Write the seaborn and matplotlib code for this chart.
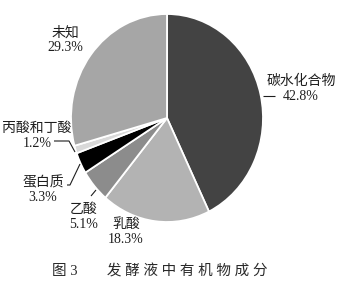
import matplotlib
matplotlib.use("Agg")
import matplotlib.pyplot as plt
import seaborn as sns
import numpy as np

# Organic composition of the fermentation broth (percent)
categories = ["碳水化合物", "乳酸", "乙酸", "蛋白质", "丙酸和丁酸", "未知"]
shares = [42.8, 18.3, 5.1, 3.3, 1.2, 29.3]
value_labels = ["42.8%", "18.3%", "5.1%", "3.3%", "1.2%", "29.3%"]
title = "图 3\u3000\u3000发 酵 液 中 有 机 物 成 分"

colors = ["#434343", "#b3b3b3", "#8c8c8c", "#000000", "#d9d9d9", "#a6a6a6"]

sns.set_theme(style="white")
plt.rcParams["font.family"] = ["Liberation Serif", "Noto Sans CJK SC"]

W, H = 343, 291
fig = plt.figure(figsize=(W / 100, H / 100), dpi=100)
ax = fig.add_axes([0, 0, 1, 1])

# pie centre and radii in pixels (the figure is slightly stretched vertically)
cx, cy, rx, ry = 167, 118, 96, 104

def px(x, y):
    """pixel position (from top-left) -> data coordinates"""
    return (x - cx) / rx, (cy - y) / ry

wedges, _ = ax.pie(shares, colors=colors, startangle=90, counterclock=False,
                   radius=1.0,
                   wedgeprops=dict(edgecolor="white", linewidth=1.3))
ax.set_aspect("auto")
ax.set_xlim(-cx / rx, (W - cx) / rx)
ax.set_ylim(-(H - cy) / ry, cy / ry)
ax.axis("off")

# label block centres (pixels) and leader polylines (pixels)
label_pos = {
    "碳水化合物": (301, 89),
    "乳酸": (126, 232),
    "乙酸": (84, 217),
    "蛋白质": (43, 190),
    "丙酸和丁酸": (37, 136),
    "未知": (65, 40),
}
leaders = {
    "碳水化合物": [(263, 96), (275, 96)],
    "乙酸": [(91, 196), (96, 190)],
    "蛋白质": [(67, 185), (70, 185), (80, 164)],
    "丙酸和丁酸": [(54, 141), (69, 141), (75, 152)],
}

for name, val in zip(categories, value_labels):
    x, y = label_pos[name]
    ax.text(*px(x, y), f"{name}\n{val}", ha="center", va="center",
            fontsize=10, linespacing=1.15, color="#1e1e1e")
    if name in leaders:
        pts = np.array([px(a, b) for a, b in leaders[name]])
        ax.plot(pts[:, 0], pts[:, 1], color="#1e1e1e", lw=0.8,
                solid_capstyle="butt")

fig.text(160 / W, 1 - 271 / H, title, ha="center", va="center",
         fontsize=10.5, color="#2a2a2a")

fig.savefig("out.png", dpi=100)
